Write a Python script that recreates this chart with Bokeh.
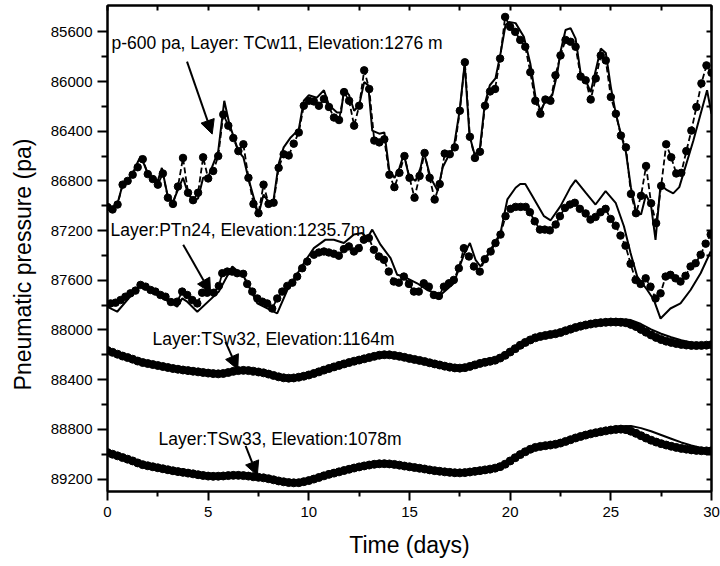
from bokeh.plotting import figure
from bokeh.models import Range1d, LinearAxis, FixedTicker, Arrow, NormalHead, Label
from bokeh.embed import file_html
from bokeh.resources import INLINE

FONT = "Liberation Sans"

# ---------------- axes / ticks ----------------
x_ticks = [0, 5, 10, 15, 20, 25, 30]
x_minor = [2.5, 7.5, 12.5, 17.5, 22.5, 27.5]
y_ticks = [85600, 86000, 86400, 86800, 87200, 87600, 88000, 88400, 88800, 89200]
y_minor = [85800, 86200, 86600, 87000, 87400, 87800, 88200, 88600, 89000]

# ---------------- data ----------------
# Layer TCw11 (p-600 pa) - measured, every 0.25 day
tcw11_meas = [
    87010, 87030, 86990, 86830, 86800, 86750, 86690, 86625,
    86745, 86785, 86830, 86740, 86935, 86985, 86845, 86615,
    86895, 86955, 86895, 86610, 86780, 86720, 86600, 86265,
    86355, 86455, 86560, 86505, 86775, 86985, 87060, 86830,
    86985, 86975, 86695, 86585, 86595, 86500, 86410, 86195,
    86155, 86160, 86195, 86140, 86205, 86290, 86310, 86085,
    86155, 86355, 86195, 85910, 86060, 86475, 86490, 86465,
    86750, 86850, 86735, 86600, 86775, 86935, 86760, 86575,
    86775, 86950, 86825, 86580, 86585, 86530, 86235, 85845,
    86445, 86615, 86565, 86195, 86080, 86060, 85815, 85480,
    85560, 85600, 85665, 85720, 85925, 86155, 86260, 86145,
    86155, 85950, 85790, 85665, 85680, 85720, 85960, 85990,
    86145, 85975, 85790, 85830, 86125, 86260, 86435, 86530,
    86905, 87060, 86920, 86680, 86980, 87140, 86840, 86505,
    86610, 86740, 86735, 86560, 86395, 86205, 86015, 85870,
    85930,
]
tcw11_days = [0.25 * i for i in range(len(tcw11_meas))]

# Layer TCw11 - model
tcw11_model = [
    (0.0, 87000), (0.25, 87010), (0.5, 86980), (0.75, 86830), (1.0, 86790),
    (1.25, 86740), (1.5, 86650), (1.65, 86600), (2.0, 86740), (2.25, 86780),
    (2.5, 86800), (2.7, 86695), (3.0, 86930), (3.25, 86970), (3.5, 86870),
    (3.75, 86775), (4.0, 86900), (4.25, 86960), (4.5, 86940), (4.75, 86775),
    (5.0, 86770), (5.25, 86665), (5.5, 86560), (5.8, 86155), (6.05, 86340),
    (6.5, 86560), (6.75, 86610), (7.0, 86780), (7.4, 87015), (7.5, 87070),
    (7.75, 86910), (8.0, 86970), (8.25, 86950), (8.5, 86665), (8.75, 86530),
    (9.1, 86450), (9.5, 86385), (9.75, 86155), (10.0, 86110), (10.4, 86130),
    (10.75, 86070), (11.0, 86190), (11.4, 86250), (11.6, 86250), (11.75, 86060),
    (12.0, 86110), (12.25, 86235), (12.5, 86190), (12.75, 86005), (12.95, 86030),
    (13.15, 86395), (13.5, 86420), (13.75, 86410), (14.0, 86720), (14.26, 86775),
    (14.5, 86695), (14.72, 86585), (14.97, 86760), (15.3, 86800), (15.55, 86695),
    (15.71, 86570), (16.05, 86775), (16.4, 86880), (16.65, 86690), (16.9, 86610),
    (17.2, 86530), (17.49, 86235), (17.74, 85855), (17.98, 86435), (18.23, 86585),
    (18.48, 86560), (18.74, 86180), (18.99, 86030), (19.27, 85975), (19.52, 85775),
    (19.77, 85545), (19.94, 85520), (20.27, 85530), (20.68, 85640), (21.0, 85855),
    (21.26, 86125), (21.51, 86235), (21.76, 86155), (22.09, 86110), (22.34, 85935),
    (22.5, 85760), (22.75, 85585), (23.0, 85570), (23.25, 85655), (23.5, 85935),
    (23.75, 85990), (24.0, 86085), (24.25, 85910), (24.5, 85735), (24.75, 85770),
    (25.0, 86045), (25.25, 86260), (25.5, 86425), (25.75, 86570), (26.0, 86855),
    (26.25, 87045), (26.5, 87070), (26.75, 86910), (27.0, 87000), (27.22, 87275),
    (27.47, 86830), (27.75, 86870), (28.1, 86900), (28.4, 86850), (29.1, 86475),
    (29.78, 86070), (30.0, 86260),
]

# Layer PTn24 - measured
ptn24_meas = [
    (0.15, 87786), (0.4, 87780), (0.65, 87759), (0.89, 87732), (1.14, 87705),
    (1.39, 87683), (1.64, 87637), (1.89, 87651), (2.14, 87678), (2.38, 87691),
    (2.63, 87718), (2.88, 87732), (3.15, 87775), (3.46, 87772), (3.71, 87691),
    (3.96, 87718), (4.21, 87759), (4.46, 87786), (4.7, 87700), (4.95, 87700),
    (5.28, 87700), (5.53, 87645), (5.7, 87543), (5.95, 87530), (6.19, 87530),
    (6.44, 87543), (6.74, 87548), (6.94, 87629), (7.19, 87691), (7.44, 87746),
    (7.69, 87772), (7.93, 87786), (8.18, 87827), (8.43, 87746), (8.68, 87691),
    (8.93, 87645), (9.18, 87619), (9.42, 87570), (9.67, 87503), (9.92, 87449),
    (10.25, 87394), (10.5, 87376), (10.75, 87368), (10.99, 87376), (11.24, 87386),
    (11.49, 87402), (11.74, 87349), (11.99, 87327), (12.24, 87368), (12.48, 87341),
    (12.73, 87273), (12.98, 87260), (13.23, 87354), (13.48, 87408), (13.73, 87435),
    (13.97, 87530), (14.22, 87610), (14.47, 87619), (14.72, 87570), (14.97, 87629),
    (15.22, 87691), (15.46, 87691), (15.71, 87624), (15.96, 87651), (16.21, 87718),
    (16.46, 87726), (16.71, 87651), (16.96, 87624), (17.2, 87597), (17.45, 87503),
    (17.7, 87341), (17.95, 87408), (18.2, 87489), (18.49, 87530), (18.74, 87430),
    (19.03, 87368), (19.27, 87300), (19.52, 87232), (19.77, 87084), (20.02, 87025),
    (20.27, 87009), (20.52, 87009), (20.77, 87009), (20.98, 87052), (21.22, 87125),
    (21.48, 87192), (21.72, 87192), (21.97, 87198), (22.26, 87151), (22.47, 87084),
    (22.72, 87017), (22.97, 86990), (23.21, 86976), (23.46, 87025), (23.75, 87062),
    (23.99, 87111), (24.24, 87090), (24.49, 87052), (24.74, 87025), (24.99, 87106),
    (25.24, 87160), (25.48, 87240), (25.73, 87321), (25.98, 87467), (26.23, 87597),
    (26.48, 87629), (26.73, 87584), (26.97, 87651), (27.22, 87746), (27.47, 87705),
    (27.72, 87570), (27.96, 87556), (28.21, 87584), (28.46, 87610), (28.71, 87564),
    (28.96, 87489), (29.21, 87462), (29.46, 87394), (29.71, 87305), (29.96, 87232),
]

# Layer PTn24 - model
ptn24_model = [
    (0.0, 87813), (0.48, 87853), (1.55, 87651), (1.79, 87651), (3.46, 87813),
    (3.71, 87746), (3.96, 87772), (4.46, 87853), (5.53, 87691), (6.2, 87489),
    (6.77, 87570), (7.44, 87786), (8.43, 87867), (8.93, 87678), (9.75, 87462),
    (10.25, 87341), (10.83, 87273), (11.24, 87273), (11.74, 87300), (12.24, 87232),
    (12.65, 87219), (12.9, 87260), (13.15, 87192), (13.56, 87313), (14.06, 87422),
    (14.39, 87556), (14.72, 87570), (15.38, 87624), (15.88, 87678), (16.54, 87718),
    (17.2, 87624), (17.7, 87394), (18.0, 87300), (18.28, 87435), (18.53, 87489),
    (19.52, 87219), (19.86, 86949), (20.27, 86855), (20.5, 86825), (20.75, 86825),
    (21.1, 86922), (21.68, 87084), (22.01, 87117), (22.5, 87003), (23.0, 86850),
    (23.25, 86793), (23.75, 86895), (24.24, 86990), (24.74, 86882), (25.24, 86976),
    (25.65, 87165), (25.98, 87381), (26.31, 87570), (26.81, 87678), (27.14, 87759),
    (27.47, 87908), (27.96, 87827), (28.46, 87786), (28.96, 87678), (29.46, 87543),
    (29.96, 87368),
]

# Layer TSw32 - measured, every 0.25 day
tsw32_meas = [
    88165, 88180, 88195, 88210, 88222, 88235, 88250, 88262,
    88270, 88278, 88286, 88294, 88302, 88310, 88316, 88322,
    88327, 88332, 88337, 88342, 88347, 88351, 88353, 88350,
    88342, 88333, 88327, 88325, 88327, 88332, 88338, 88345,
    88355, 88366, 88377, 88385, 88388, 88386, 88380, 88372,
    88362, 88350, 88337, 88323, 88310, 88297, 88285, 88273,
    88262, 88251, 88242, 88232, 88222, 88212, 88203, 88199,
    88200, 88205, 88212, 88220, 88229, 88237, 88245, 88254,
    88264, 88273, 88282, 88291, 88299, 88305, 88307, 88303,
    88293, 88281, 88269, 88260, 88252, 88243, 88226, 88204,
    88177, 88150, 88123, 88100, 88080, 88063, 88052, 88044,
    88037, 88030, 88020, 88006, 87993, 87980, 87969, 87960,
    87952, 87946, 87941, 87938, 87936, 87936, 87938, 87942,
    87955, 87972, 87995, 88018, 88040, 88060, 88077, 88090,
    88100, 88109, 88116, 88121, 88124, 88125, 88124, 88122,
    88118,
]
tsw32_days = [0.25 * i for i in range(len(tsw32_meas))]

# Layer TSw32 - model, every 0.5 day
tsw32_model = [
    88165, 88195, 88222, 88250, 88270, 88286, 88302, 88316,
    88327, 88337, 88347, 88353, 88342, 88327, 88327, 88338,
    88355, 88377, 88388, 88380, 88362, 88337, 88310, 88285,
    88262, 88242, 88222, 88203, 88198, 88205, 88220, 88232,
    88245, 88262, 88280, 88290, 88280, 88262, 88245, 88222,
    88175, 88120, 88077, 88050, 88032, 88012, 87985, 87960,
    87940, 87925, 87917, 87913, 87920, 87952, 87995, 88030,
    88058, 88082, 88100, 88112,
    88120,
]
tsw32_model_days = [0.5 * i for i in range(len(tsw32_model))]

# Layer TSw33 - measured, every 0.25 day
tsw33_meas = [
    88987, 89000, 89013, 89027, 89040, 89054, 89070, 89084,
    89093, 89101, 89109, 89117, 89125, 89133, 89140, 89146,
    89152, 89158, 89165, 89171, 89176, 89178, 89177, 89175,
    89172, 89170, 89170, 89172, 89176, 89181, 89186, 89190,
    89197, 89206, 89215, 89222, 89228, 89230, 89229, 89221,
    89212, 89200, 89187, 89174, 89162, 89152, 89142, 89131,
    89121, 89111, 89102, 89094, 89087, 89081, 89077, 89076,
    89078, 89082, 89088, 89095, 89101, 89107, 89113, 89119,
    89126, 89132, 89137, 89142, 89146, 89149, 89150, 89148,
    89143, 89138, 89132, 89126, 89120, 89112, 89100, 89080,
    89054, 89028, 89003, 88980, 88960, 88945, 88937, 88931,
    88926, 88920, 88910, 88897, 88883, 88869, 88857, 88846,
    88836, 88827, 88819, 88812, 88805, 88800, 88798, 88802,
    88815, 88832, 88851, 88870, 88887, 88902, 88915, 88926,
    88936, 88945, 88953, 88959, 88965, 88969, 88972, 88973,
    88972,
]
tsw33_days = [0.25 * i for i in range(len(tsw33_meas))]

# Layer TSw33 - model, every 0.5 day
tsw33_model = [
    88987, 89013, 89040, 89070, 89093, 89109, 89125, 89140,
    89152, 89165, 89176, 89177, 89172, 89170, 89176, 89186,
    89197, 89215, 89228, 89229, 89212, 89187, 89162, 89142,
    89121, 89102, 89087, 89077, 89076, 89083, 89093, 89102,
    89112, 89122, 89132, 89136, 89132, 89124, 89114, 89096,
    89050, 89000, 88955, 88930, 88918, 88900, 88872, 88845,
    88820, 88800, 88785, 88774, 88772, 88790, 88815, 88845,
    88875, 88905, 88930, 88950,
    88962,
]
tsw33_model_days = [0.5 * i for i in range(len(tsw33_model))]

# annotations: (text, day, pressure) and arrows (day0, p0, day1, p1)
labels = [
    ("p-600 pa, Layer: TCw11, Elevation:1276 m", 0.2, 85691),
    ("Layer:PTn24, Elevation:1235.7m", 0.15, 87198),
    ("Layer:TSw32, Elevation:1164m", 2.24, 88070),
    ("Layer:TSw33, Elevation:1078m", 2.53, 88879),
]
arrows = [
    (3.95, 85840, 5.2, 86423),
    (3.76, 87313, 5.12, 87700),
    (5.86, 88096, 6.47, 88317),
    (6.86, 88933, 7.44, 89171),
]

# ---------------- figure ----------------
p = figure(width=720, height=566, title=None,
           x_range=Range1d(0, 30), y_range=Range1d(89300, 85388),
           output_backend="svg", toolbar_location=None,
           min_border_left=107, min_border_right=9,
           min_border_top=5, min_border_bottom=75)
p.background_fill_color = "white"
p.border_fill_color = "white"
p.outline_line_color = "black"
p.outline_line_width = 2
p.xgrid.visible = False
p.ygrid.visible = False

def style_axis(ax, ticks, minor):
    ax.ticker = FixedTicker(ticks=ticks, minor_ticks=minor)
    ax.axis_line_width = 2
    ax.axis_line_color = "black"
    ax.major_tick_line_width = 2
    ax.minor_tick_line_width = 2
    ax.major_tick_line_color = "black"
    ax.minor_tick_line_color = "black"
    ax.major_label_text_font = FONT
    ax.major_label_text_font_size = "15px"
    ax.major_label_text_color = "black"
    ax.axis_label_text_font = FONT
    ax.axis_label_text_font_size = "23px"
    ax.axis_label_text_font_style = "normal"
    ax.axis_label_text_color = "black"

xa = p.xaxis[0]
style_axis(xa, x_ticks, x_minor)
xa.axis_label = "Time (days)"
xa.major_tick_out = 9
xa.major_tick_in = 0
xa.minor_tick_out = 5
xa.minor_tick_in = 0
xa.major_label_standoff = 6
xa.axis_label_standoff = 12

ya = p.yaxis[0]
style_axis(ya, y_ticks, y_minor)
# trailing no-break spaces nudge the centred title down, as in the original
ya.axis_label = "Pneumatic pressure (pa)" + "\u00a0" * 5
ya.major_tick_out = 10
ya.major_tick_in = 0
ya.minor_tick_out = 6
ya.minor_tick_in = 0
ya.major_label_standoff = 5
ya.axis_label_standoff = 12

# unlabeled top / right axes: every tick drawn as an inward minor tick
for loc, ticks, minor in (("above", x_ticks, x_minor), ("right", y_ticks, y_minor)):
    ax = LinearAxis()
    style_axis(ax, ticks, minor)
    ax.ticker = FixedTicker(ticks=[], minor_ticks=sorted(ticks + minor))
    ax.major_tick_in = 0
    ax.major_tick_out = 0
    ax.minor_tick_in = 5
    ax.minor_tick_out = 0
    ax.major_label_standoff = 0
    p.add_layout(ax, loc)

# measured: dots joined by dashed line; model: solid line
p.line(tcw11_days, tcw11_meas, line_color="black", line_width=1.8, line_dash="6 3")
p.scatter(tcw11_days, tcw11_meas, marker="circle", size=7.5, color="black")
p.line([d for d, _ in tcw11_model], [v for _, v in tcw11_model], line_color="black", line_width=2)

pt_d = [d for d, _ in ptn24_meas]
pt_v = [v for _, v in ptn24_meas]
p.line(pt_d, pt_v, line_color="black", line_width=1.8, line_dash="6 3")
p.scatter(pt_d, pt_v, marker="circle", size=7.5, color="black")
p.line([d for d, _ in ptn24_model], [v for _, v in ptn24_model], line_color="black", line_width=2)

# deep layers: densely spaced measured dots form a thick band
p.line(tsw32_days, tsw32_meas, line_color="black", line_width=6)
p.scatter(tsw32_days, tsw32_meas, marker="circle", size=8, color="black")
p.line(tsw32_model_days, tsw32_model, line_color="black", line_width=2)
p.line(tsw33_days, tsw33_meas, line_color="black", line_width=6)
p.scatter(tsw33_days, tsw33_meas, marker="circle", size=8, color="black")
p.line(tsw33_model_days, tsw33_model, line_color="black", line_width=2)

for text, d, v in labels:
    p.add_layout(Label(x=d, y=v, text=text, text_font=FONT, text_font_size="17.5px",
                       text_color="black", text_baseline="middle", text_align="left"))

for d0, v0, d1, v1 in arrows:
    p.add_layout(Arrow(x_start=d0, y_start=v0, x_end=d1, y_end=v1, line_width=2,
                       line_color="black",
                       end=NormalHead(size=14, fill_color="black", line_color="black")))

open("out.html", "w").write(file_html(p, INLINE))
